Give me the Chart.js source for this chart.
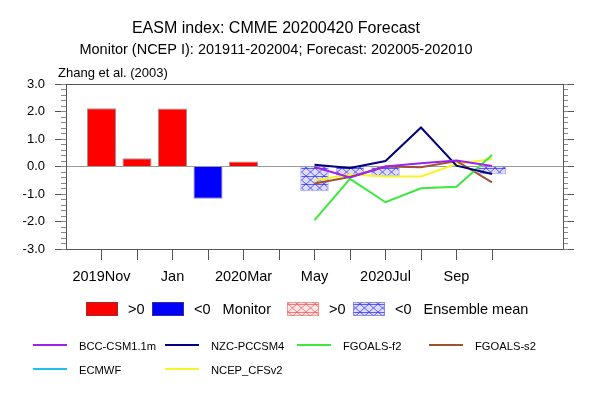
<!DOCTYPE html>
<html>
<head>
<meta charset="utf-8">
<script src="https://cdn.jsdelivr.net/npm/chart.js@4.4.1/dist/chart.umd.min.js"></script>
<style>
  body { margin: 0; background: #fff; }
</style>
</head>
<body>
<canvas id="easm" width="594" height="400"></canvas>
<script>
// x axis months (index 0 = 2019Nov), every other one gets a label
const months = ['2019Nov', 'Dec', 'Jan', 'Feb', '2020Mar', 'Apr', 'May', 'Jun', '2020Jul', 'Aug', 'Sep', 'Oct'];
const yTicks = [-3, -2, -1, 0, 1, 2, 3];

// Monitor (NCEP I), Nov - Apr
const monitorMonths = [0, 1, 2, 3, 4, 5];
const monitorValues = [2.12, 0.30, 2.11, -1.17, 0.18, 0.0];

// Forecast, May - Oct
const fcstMonths = [6, 7, 8, 9, 10, 11];
const ensembleMean = [-0.90, -0.33, -0.35, 0.0, 0.0, -0.28];
const bccCsm = [-0.02, -0.40, 0.0, 0.12, 0.22, 0.02];
const nzcPccsm4 = [0.06, -0.05, 0.20, 1.42, 0.03, -0.27];
const fgoalsF2 = [-1.95, -0.45, -1.30, -0.79, -0.74, 0.42];
const fgoalsS2 = [-0.62, -0.38, 0.0, -0.03, 0.20, -0.58];
const ecmwf = [null, null, null, null, null, null];
const ncepCfsv2 = [-0.50, -0.29, -0.36, -0.36, 0.09, 0.27];

const titleText = 'EASM index: CMME 20200420 Forecast';
const subTitleText = 'Monitor (NCEP I): 201911-202004; Forecast: 202005-202010';
const cornerText = 'Zhang et al. (2003)';

const FONT = '"Liberation Sans", Arial, Helvetica, sans-serif';
const canvas = document.getElementById('easm');
const ctx = canvas.getContext('2d');

// hatch fill for the ensemble mean boxes
function makeHatch(line, fill) {
  const c = document.createElement('canvas');
  c.width = 9; c.height = 8;
  const g = c.getContext('2d');
  g.fillStyle = fill;
  g.fillRect(0, 0, 9, 8);
  g.strokeStyle = line;
  g.lineWidth = 0.8;
  g.beginPath();
  g.moveTo(0, 0.5); g.lineTo(9, 0.5);
  g.moveTo(0, 0); g.lineTo(9, 8);
  g.moveTo(9, 0); g.lineTo(0, 8);
  g.stroke();
  return ctx.createPattern(c, 'repeat');
}
const blueHatch = makeHatch('#3a3aff', '#dedefa');
const redHatch = makeHatch('#ff5a5a', '#fdeaea');

function pts(xs, ys) {
  return xs.map((x, i) => ({ x: x, y: ys[i] }));
}

function model(label, values, color) {
  return {
    type: 'line',
    label: label,
    data: pts(fcstMonths, values),
    borderColor: color,
    backgroundColor: color,
    borderWidth: 2,
    pointRadius: 0,
    tension: 0,
    fill: false
  };
}

const models = [
  model('BCC-CSM1.1m', bccCsm, '#a020f0'),
  model('NZC-PCCSM4', nzcPccsm4, '#000080'),
  model('FGOALS-f2', fgoalsF2, '#3ce83c'),
  model('FGOALS-s2', fgoalsS2, '#a0522d'),
  model('ECMWF', ecmwf, '#1ec0f0'),
  model('NCEP_CFSv2', ncepCfsv2, '#f5f52a')
];

// titles and the two legend blocks
const decorations = {
  id: 'decorations',
  afterDraw(chart) {
    const c = chart.ctx;
    c.save();
    c.fillStyle = '#000';
    c.textBaseline = 'alphabetic';
    c.textAlign = 'center';
    c.font = '16px ' + FONT;
    c.fillText(titleText, 276, 33);
    c.font = '14.5px ' + FONT;
    c.fillText(subTitleText, 276, 53.5);
    c.textAlign = 'left';
    c.font = '13px ' + FONT;
    c.fillText(cornerText, 58, 77);

    // Monitor / Ensemble mean keys
    c.font = '14.5px ' + FONT;
    const keys = [
      { x: 86, fill: '#ff0000', border: 'rgba(80,80,80,0.6)', text: '>0' },
      { x: 152, fill: '#0000ff', border: 'rgba(80,80,80,0.6)', text: '<0   Monitor' },
      { x: 287, fill: redHatch, border: 'rgba(240,120,120,0.7)', text: '>0' },
      { x: 353, fill: blueHatch, border: 'rgba(120,120,230,0.7)', text: '<0   Ensemble mean' }
    ];
    keys.forEach(k => {
      c.fillStyle = k.fill;
      c.fillRect(k.x, 302, 32, 14);
      c.strokeStyle = k.border;
      c.lineWidth = 1;
      c.strokeRect(k.x + 0.5, 302.5, 31, 13);
      c.fillStyle = '#000';
      c.fillText(k.text, k.x + 42, 314);
    });

    // model line keys, 4 per row
    c.font = '11.2px ' + FONT;
    chart.data.datasets.forEach(ds => {
      if (ds.type !== 'line') return;
      const i = models.indexOf(ds);
      const x0 = 33 + (i % 4) * 132;
      const y0 = 345 + Math.floor(i / 4) * 24;
      c.strokeStyle = ds.borderColor;
      c.lineWidth = 2;
      c.beginPath();
      c.moveTo(x0, y0);
      c.lineTo(x0 + 34, y0);
      c.stroke();
      c.fillStyle = '#000';
      c.fillText(ds.label, x0 + 46, y0 + 4.5);
    });
    c.restore();
  }
};

const AXIS = '#555';

function minorAxis(position) {
  return {
    type: 'linear',
    position: position,
    min: -3,
    max: 3,
    weight: 1,
    ticks: { display: false, stepSize: 0.2, maxTicksLimit: 100 },
    grid: { drawOnChartArea: false, tickLength: 5, tickColor: '#888' },
    border: { display: false },
    afterFit: scale => { scale.width = 0; }
  };
}

new Chart(ctx, {
  data: {
    datasets: models.concat([
      {
        type: 'bar',
        label: 'Monitor',
        data: pts(monitorMonths, monitorValues),
        backgroundColor: c => c.parsed.y >= 0 ? '#ff0000' : '#0000ff',
        borderColor: 'rgba(80,80,80,0.6)',
        borderWidth: 1,
        grouped: false,
        barPercentage: 0.82,
        categoryPercentage: 1
      },
      {
        type: 'bar',
        label: 'Ensemble mean',
        data: pts(fcstMonths, ensembleMean),
        backgroundColor: c => c.parsed.y > 0 ? redHatch : blueHatch,
        borderColor: c => c.parsed.y > 0 ? 'rgba(240,120,120,0.7)' : 'rgba(120,120,230,0.7)',
        borderWidth: 1,
        grouped: false,
        barPercentage: 0.8,
        categoryPercentage: 1
      }
    ])
  },
  options: {
    responsive: false,
    animation: false,
    devicePixelRatio: 1,
    layout: { padding: { top: 84, left: 0, right: 0, bottom: 0 } },
    plugins: {
      legend: { display: false },
      tooltip: { enabled: false }
    },
    scales: {
      x: {
        type: 'linear',
        position: 'bottom',
        min: -1,
        max: 13,
        offset: false,
        afterBuildTicks: scale => {
          scale.ticks = months.map((m, i) => ({ value: i }));
        },
        ticks: {
          autoSkip: false,
          maxRotation: 0,
          minRotation: 0,
          padding: 8,
          color: '#000',
          font: { family: FONT, size: 14.5 },
          callback: v => (v % 2 === 0 ? months[v] : '')
        },
        grid: { offset: false, drawOnChartArea: false, tickLength: 11, tickColor: AXIS },
        border: { color: AXIS, width: 1 },
        afterFit: scale => { scale.height = 151; }
      },
      xTop: {
        type: 'linear',
        position: 'top',
        min: -1,
        max: 13,
        offset: false,
        ticks: { display: false },
        grid: { offset: false, drawOnChartArea: false, drawTicks: false },
        border: { color: AXIS, width: 1 },
        afterFit: scale => { scale.height = 0; }
      },
      y: {
        type: 'linear',
        position: 'left',
        min: -3,
        max: 3,
        weight: 2,
        afterBuildTicks: scale => {
          scale.ticks = yTicks.map(v => ({ value: v }));
        },
        ticks: {
          padding: 10,
          color: '#000',
          font: { family: FONT, size: 13 },
          callback: v => v.toFixed(1)
        },
        grid: {
          color: c => (c.tick && c.tick.value === 0 ? '#9a9a9a' : 'rgba(0,0,0,0)'),
          tickColor: AXIS,
          tickLength: 11
        },
        border: { color: AXIS, width: 1 },
        afterFit: scale => { scale.width = 66; }
      },
      yMinor: minorAxis('left'),
      yRight: {
        type: 'linear',
        position: 'right',
        min: -3,
        max: 3,
        weight: 2,
        afterBuildTicks: scale => {
          scale.ticks = yTicks.map(v => ({ value: v }));
        },
        ticks: { display: false },
        grid: { drawOnChartArea: false, tickColor: AXIS, tickLength: 11 },
        border: { color: AXIS, width: 1 },
        afterFit: scale => { scale.width = 31; }
      },
      yRightMinor: minorAxis('right')
    }
  },
  plugins: [decorations]
});
</script>
</body>
</html>
